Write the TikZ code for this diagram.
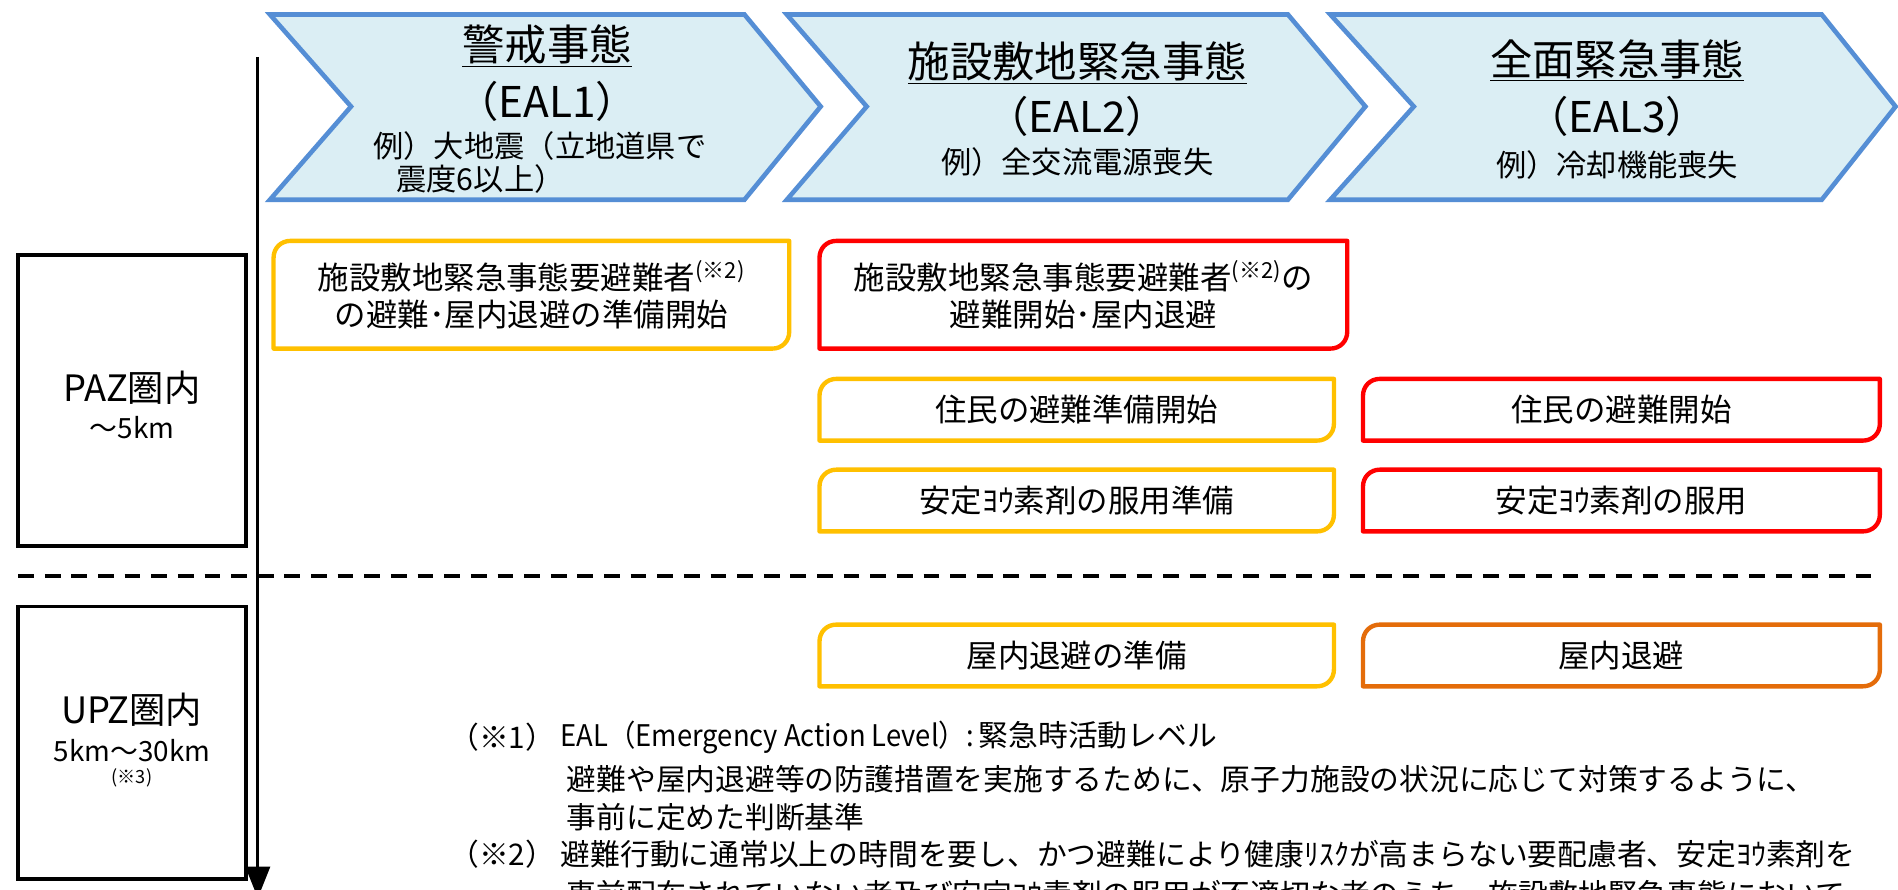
\documentclass[tikz,border=0pt]{standalone}
\usepackage{fontspec}
\setmainfont{Noto Sans CJK JP}
\usetikzlibrary{arrows.meta}
\definecolor{chevfill}{HTML}{DBEEF4}
\definecolor{chevline}{HTML}{558ED5}
\definecolor{ylw}{HTML}{FFC000}
\definecolor{rd}{HTML}{FF0000}
\definecolor{org}{HTML}{E46C0A}
\tikzset{
 chev/.style={draw=chevline, fill=chevfill, line width=3.8pt, line join=miter},
 actbox/.style={line width=3.6pt, line join=round},
 zonebox/.style={draw=black, line width=3.2pt, line join=miter},
 txt/.style={inner sep=0pt, align=center, text=black},
 titletxt/.style={txt, font=\fontsize{35}{40}\selectfont},
 ealtxt/.style={txt, font=\fontsize{35}{40}\selectfont},
 extxt/.style={txt, font=\fontsize{25}{27}\selectfont},
 boxtxt/.style={txt, font=\fontsize{26}{31}\selectfont},
 zonetxt/.style={txt, font=\fontsize{30}{34}\selectfont},
 zonesub/.style={txt, font=\fontsize{23}{26}\selectfont},
 fntxt/.style={inner sep=0pt, anchor=west, align=left, text=black, font=\fontsize{24.6}{30}\selectfont},
}
\newcommand\chevron[4]{\draw[chev] (#1,12) -- (#3,12) -- (#4,88) -- (#3,165) -- (#1,165) -- (#2,88) -- cycle;}
\newcommand\dbox[7]{%
 \draw[actbox, draw=#6] (#2+14,#3) -- (#4,#3) -- (#4,#5-14) .. controls (#4,#5-6) and (#4-6,#5) .. (#4-14,#5) -- (#2,#5) -- (#2,#3+14) .. controls (#2,#3+6) and (#2+6,#3) .. cycle;
 \node[boxtxt] (#1) at ({(#2+#4)/2},{(#3+#5)/2}) {#7};}
\begin{document}
\begin{tikzpicture}[x=1pt,y=-1pt]
\useasboundingbox[fill=white] (0,0) rectangle (1568,735);
% chevrons
\chevron{223}{290}{615}{678}
\chevron{650}{716}{1064}{1128}
\chevron{1099}{1168}{1505}{1566}
\node[titletxt] (t1) at (452,38) {\underline{警戒事態}};
\node[ealtxt] (e1) at (452,84) {（EAL1）};
\node[extxt, align=left] (x1) at (446,134) {例）大地震（立地道県で\\\hspace*{19pt}震度6以上）};
\node[titletxt] (t2) at (890,52) {\underline{施設敷地緊急事態}};
\node[ealtxt] (e2) at (890,96) {（EAL2）};
\node[extxt] (x2) at (890,134) {例）全交流電源喪失};
\node[titletxt] (t3) at (1336,50) {\underline{全面緊急事態}};
\node[ealtxt] (e3) at (1336,96) {（EAL3）};
\node[extxt] (x3) at (1336,136) {例）冷却機能喪失};
% timeline axis
\coordinate (axtop) at (213,47);
\coordinate (axbot) at (213,742);
\draw[line width=2.5pt, -{Triangle[length=26pt,width=20pt]}] (axtop) -- (axbot);
% zones
\draw[zonebox] (15,211) rectangle (203,451);
\node[zonetxt] (paz) at (109,320) {PAZ圏内};
\node[zonesub] (pazr) at (109,353) {〜5km};
\draw[zonebox] (15,501) rectangle (203,726);
\node[zonetxt] (upz) at (109,586) {UPZ圏内};
\node[zonesub] (upzr) at (109,620) {5km〜30km};
\node[txt, font=\fontsize{15}{17}\selectfont] (upzn) at (109,643) {(※3)};
% dashed separator
\draw[line width=3pt, dash pattern=on 13pt off 9pt] (15,476) -- (1547,476);
% action boxes
\dbox{a}{226}{199}{652}{288}{ylw}{施設敷地緊急事態要避難者\textsuperscript{(※2)}\\の避難･屋内退避の準備開始}
\dbox{b}{677}{199}{1113}{288}{rd}{施設敷地緊急事態要避難者\textsuperscript{(※2)}の\\避難開始･屋内退避}
\dbox{c}{677}{313}{1102}{364}{ylw}{住民の避難準備開始}
\dbox{d}{1126}{313}{1553}{364}{rd}{住民の避難開始}
\dbox{e}{677}{388}{1102}{439}{ylw}{安定ﾖｳ素剤の服用準備}
\dbox{f}{1126}{388}{1553}{439}{rd}{安定ﾖｳ素剤の服用}
\dbox{g}{677}{516}{1102}{567}{ylw}{屋内退避の準備}
\dbox{h}{1126}{516}{1553}{567}{org}{屋内退避}
% footnotes
\node[fntxt] (n1) at (371,609) {（※1）};
\node[fntxt] (n1a) at (463,609) {\scalebox{0.92}[1]{EAL（Emergency Action Level）:}\,緊急時活動レベル};
\node[fntxt] (n1b) at (468,644) {避難や屋内退避等の防護措置を実施するために、原子力施設の状況に応じて対策するように、};
\node[fntxt] (n1c) at (468,675) {事前に定めた判断基準};
\node[fntxt] (n2) at (371,706) {（※2）};
\node[fntxt] (n2a) at (463,706) {避難行動に通常以上の時間を要し、かつ避難により健康ﾘｽｸが高まらない要配慮者、安定ﾖｳ素剤を};
\node[fntxt] (n2b) at (468,739) {事前配布されていない者及び安定ﾖｳ素剤の服用が不適切な者のうち、施設敷地緊急事態において};
\end{tikzpicture}
\end{document}
